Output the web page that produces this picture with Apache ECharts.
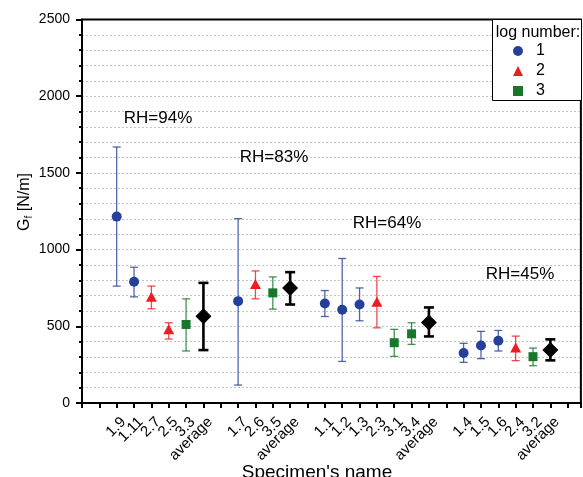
<!DOCTYPE html>
<html>
<head>
<meta charset="utf-8">
<script src="https://cdn.jsdelivr.net/npm/echarts@6/dist/echarts.min.js"></script>
<style>html,body{margin:0;padding:0;background:#fff;}#c{width:583px;height:477px;}</style>
</head>
<body>
<div id="c"></div>
<script>
// Category slots along the x axis (blank slots separate the RH groups)
const categories = ['', '', '1.9', '1.11', '2.7', '2.5', '3.3', 'average', '',
  '1.7', '2.6', '3.5', 'average', '',
  '1.1', '1.2', '1.3', '2.3', '3.1', '3.4', 'average', '',
  '1.4', '1.5', '1.6', '2.4', '3.2', 'average', ''];
// Mean G_f [N/m] and error-bar limits, aligned with categories
const gfMean = [null, null, 1215, 790, 692, 480, 512, 566, null,
  664, 775, 718, 749, null,
  649, 608, 642, 660, 393, 451, 525, null,
  326, 375, 406, 362, 302, 345, null];
const gfLow = [null, null, 762, 692, 614, 417, 339, 345, null,
  117, 679, 612, 642, null,
  564, 271, 536, 490, 304, 382, 434, null,
  265, 289, 339, 276, 243, 278, null];
const gfHigh = [null, null, 1669, 885, 762, 523, 679, 783, null,
  1202, 861, 822, 853, null,
  733, 942, 750, 825, 480, 523, 623, null,
  389, 467, 473, 436, 358, 415, null];
const logNames = ['1', '2', '3'];
const rhLabels = ['RH=94%', 'RH=83%', 'RH=64%', 'RH=45%'];
const yTicks = [0, 500, 1000, 1500, 2000, 2500];

const FONT = '"Liberation Sans", Arial, sans-serif';
const groupOf = name => name === 'average' ? 'avg' : name.charAt(0);
const style = {
  '1': { color: '#25409a', err: 'rgba(37,64,154,0.8)', symbol: 'circle', size: 10, w: 1.3, cap: 4 },
  '2': { color: '#ec1c24', err: 'rgba(236,28,36,0.8)', symbol: 'triangle', size: [11, 10], w: 1.3, cap: 4 },
  '3': { color: '#18772b', err: 'rgba(24,119,43,0.8)', symbol: 'rect', size: 9, w: 1.3, cap: 4 },
  'avg': { color: '#000000', err: '#000000', symbol: 'diamond', size: [16, 16], w: 2.6, cap: 5 }
};

function pts(g) {
  const out = [];
  categories.forEach((c, i) => {
    if (c && gfMean[i] != null && groupOf(c) === g) out.push([i, gfMean[i], gfLow[i], gfHigh[i]]);
  });
  return out;
}

const series = [];
['1', '2', '3', 'avg'].forEach(g => {
  const st = style[g];
  series.push({
    type: 'custom',
    name: 'err' + g,
    data: pts(g).map(p => [p[0], p[2], p[3]]),
    encode: { x: 0, y: [1, 2] },
    z: 3,
    renderItem: function (params, api) {
      const x = api.value(0);
      const a = api.coord([x, api.value(1)]);
      const b = api.coord([x, api.value(2)]);
      const ls = { stroke: st.err, lineWidth: st.w };
      return {
        type: 'group',
        children: [
          { type: 'line', shape: { x1: a[0], y1: a[1], x2: b[0], y2: b[1] }, style: ls },
          { type: 'line', shape: { x1: a[0] - st.cap, y1: a[1], x2: a[0] + st.cap, y2: a[1] }, style: ls },
          { type: 'line', shape: { x1: b[0] - st.cap, y1: b[1], x2: b[0] + st.cap, y2: b[1] }, style: ls }
        ]
      };
    }
  });
  series.push({
    type: 'scatter',
    name: g === 'avg' ? 'average' : g,
    data: pts(g).map(p => [p[0], p[1]]),
    symbol: st.symbol,
    symbolSize: st.size,
    itemStyle: { color: st.color, opacity: 1 },
    z: 5
  });
});

const chart = echarts.init(document.getElementById('c'), null, { renderer: 'canvas' });
chart.setOption({
  animation: false,
  backgroundColor: '#ffffff',
  grid: {
    left: 82, right: 2, top: 19.5, bottom: 74,
    show: true, borderColor: '#000', borderWidth: 2, backgroundColor: 'transparent'
  },
  xAxis: {
    type: 'value',
    min: 0, max: 28.76, interval: 1,
    axisLine: { show: true, lineStyle: { color: '#000', width: 2 } },
    axisTick: { show: true, length: 5, lineStyle: { color: '#000', width: 2 } },
    splitLine: { show: false },
    axisLabel: {
      show: true, rotate: 45, margin: 10, fontSize: 15, color: '#000', fontFamily: FONT,
      verticalAlign: 'top', padding: [2, 0, 0, 0],
      hideOverlap: false, showMinLabel: true, showMaxLabel: true,
      formatter: v => {
        const r = Math.round(v);
        return Math.abs(v - r) < 1e-6 ? (categories[r] || '') : '';
      }
    }
  },
  yAxis: {
    type: 'value',
    min: yTicks[0], max: yTicks[yTicks.length - 1], interval: 500,
    axisLine: { show: true, lineStyle: { color: '#000', width: 2 } },
    axisTick: { show: true, length: 6, lineStyle: { color: '#000', width: 2 } },
    minorTick: { show: true, splitNumber: 5, length: 3, lineStyle: { color: '#000', width: 2 } },
    splitLine: { show: true, showMinLine: false, showMaxLine: false, lineStyle: { color: '#c4c4c4', width: 1, type: [2, 2] } },
    minorSplitLine: { show: true, lineStyle: { color: '#c4c4c4', width: 1, type: [2, 2] } },
    axisLabel: { margin: 12, fontSize: 14, color: '#000', fontFamily: FONT, formatter: v => String(v) }
  },
  legend: {
    show: true,
    orient: 'vertical',
    left: 508, top: 38,
    itemWidth: 10, itemHeight: 10, itemGap: 4,
    z: 20,
    selectedMode: false,
    textStyle: { fontSize: 16, color: '#000', fontFamily: FONT, lineHeight: 16, padding: [0, 0, 0, 8] },
    data: [
      { name: logNames[0], icon: 'circle' },
      { name: logNames[1], icon: 'triangle' },
      { name: logNames[2], icon: 'rect' }
    ]
  },
  graphic: [
    { type: 'rect', z: 10, shape: { x: 492.5, y: 19.5, width: 89, height: 81 },
      style: { fill: '#fff', stroke: '#000', lineWidth: 1 } },
    { type: 'text', z: 11, x: 538, y: 33, style: { text: 'log number:', font: '16px ' + FONT, fill: '#000', textAlign: 'center', textVerticalAlign: 'middle' } },
    { type: 'text', z: 11, x: 158, y: 118, style: { text: rhLabels[0], font: '17px ' + FONT, fill: '#000', textAlign: 'center', textVerticalAlign: 'middle' } },
    { type: 'text', z: 11, x: 274, y: 157, style: { text: rhLabels[1], font: '17px ' + FONT, fill: '#000', textAlign: 'center', textVerticalAlign: 'middle' } },
    { type: 'text', z: 11, x: 387, y: 223, style: { text: rhLabels[2], font: '17px ' + FONT, fill: '#000', textAlign: 'center', textVerticalAlign: 'middle' } },
    { type: 'text', z: 11, x: 520, y: 274, style: { text: rhLabels[3], font: '17px ' + FONT, fill: '#000', textAlign: 'center', textVerticalAlign: 'middle' } },
    { type: 'text', z: 11, x: 317, y: 473, style: { text: "Specimen's name", font: '19px ' + FONT, fill: '#000', textAlign: 'center', textVerticalAlign: 'middle' } },
    { type: 'text', z: 11, x: 25, y: 202, rotation: Math.PI / 2,
      style: {
        text: '{a|G}{b|f}{a| [N/m]}', textAlign: 'center', textVerticalAlign: 'middle', fill: '#000',
        rich: {
          a: { fontSize: 16, fontFamily: FONT, fill: '#000', color: '#000', lineHeight: 18 },
          b: { fontSize: 10, fontFamily: FONT, fill: '#000', color: '#000', verticalAlign: 'bottom', lineHeight: 10, padding: [6, 0, 0, 0] }
        }
      } }
  ],
  series: series
});
</script>
</body>
</html>
